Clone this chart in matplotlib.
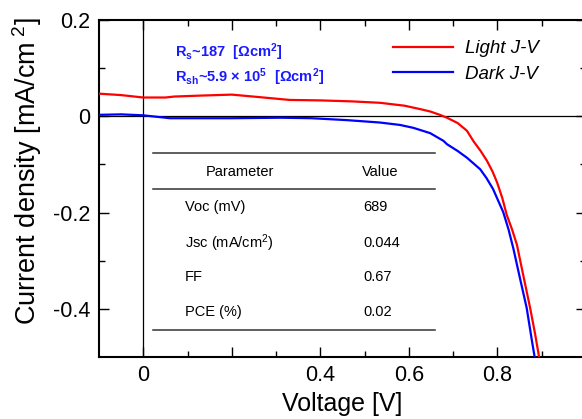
import matplotlib
matplotlib.use("Agg")
import matplotlib.pyplot as plt

plt.rcParams['font.family'] = ['Liberation Sans', 'DejaVu Sans']
plt.rcParams['mathtext.fontset'] = 'custom'
plt.rcParams['mathtext.rm'] = 'Liberation Sans'
plt.rcParams['mathtext.bf'] = 'Liberation Sans:bold'
plt.rcParams['mathtext.it'] = 'Liberation Sans:italic'

# light J-V curve
v_light = [-0.1, -0.05, 0.0, 0.05, 0.07, 0.13, 0.2, 0.26, 0.33, 0.40, 0.47, 0.535,
           0.59, 0.625, 0.648, 0.67, 0.686, 0.71, 0.731, 0.746, 0.762, 0.776, 0.789,
           0.799, 0.811, 0.821, 0.833, 0.844, 0.858, 0.874, 0.885, 0.894, 0.90]
j_light = [0.047, 0.044, 0.039, 0.039, 0.041, 0.043, 0.045, 0.040, 0.034, 0.033, 0.031, 0.028,
           0.022, 0.015, 0.010, 0.003, -0.003, -0.014, -0.030, -0.052, -0.072, -0.092, -0.115,
           -0.137, -0.170, -0.205, -0.235, -0.267, -0.329, -0.399, -0.452, -0.5, -0.53]

# dark J-V curve
v_dark = [-0.1, -0.05, 0.0, 0.04, 0.06, 0.2, 0.31, 0.38, 0.46, 0.535, 0.58, 0.61, 0.648,
          0.678, 0.686, 0.71, 0.731, 0.761, 0.775, 0.79, 0.813, 0.825, 0.836, 0.851,
          0.866, 0.878, 0.884, 0.89]
j_dark = [0.003, 0.004, 0.002, -0.002, -0.004, -0.004, -0.003, -0.004, -0.008, -0.013, -0.018,
          -0.024, -0.035, -0.051, -0.058, -0.072, -0.086, -0.11, -0.128, -0.151, -0.199,
          -0.235, -0.275, -0.337, -0.398, -0.467, -0.5, -0.53]

x_ticks = [0, 0.2, 0.4, 0.6, 0.8, 1.0]
x_labels = ['0', '', '0.4', '0.6', '0.8', '1']
y_ticks = [0.2, 0, -0.2, -0.4]
y_labels = ['0.2', '0', '-0.2', '-0.4']

params = ['Voc (mV)', 'Jsc (mA/cm$^2$)', 'FF', 'PCE (%)']
values = ['689', '0.044', '0.67', '0.02']

fig = plt.figure(figsize=(5.82, 4.19), dpi=100)
ax = fig.add_axes([99/582, 62/419, 487/582, 337/419])

ax.axhline(0, color='black', lw=0.9, zorder=1)
ax.axvline(0, color='black', lw=0.9, zorder=1)
ax.plot(v_light, j_light, color='#ff0000', lw=1.6, label='Light J-V', zorder=3)
ax.plot(v_dark, j_dark, color='#0000ff', lw=1.6, label='Dark J-V', zorder=3)

ax.set_xlim(-0.1, 1.0)
ax.set_ylim(-0.5, 0.2)
ax.set_xticks(x_ticks)
ax.set_xticklabels(x_labels)
ax.set_yticks(y_ticks)
ax.set_yticklabels(y_labels)
ax.set_xticks([0.1, 0.3, 0.5, 0.7, 0.9], minor=True)
ax.set_yticks([0.1, -0.1, -0.3], minor=True)
ax.tick_params(which='both', direction='in', top=True, right=True, labelsize=15.5, width=1)
ax.tick_params(which='major', length=7, pad=6)
ax.tick_params(which='minor', length=4)
for s in ax.spines.values():
    s.set_linewidth(1.5)

ax.set_xlabel('Voltage [V]', fontsize=18, labelpad=4)
ax.set_ylabel('Current density [mA/cm$^{\\ 2}$]', fontsize=19.5)
ax.yaxis.set_label_coords(-0.112, 0.553)

leg = ax.legend(loc='upper left', bbox_to_anchor=(0.57, 0.99), frameon=False,
                prop={'style': 'italic', 'size': 13.5}, handlelength=3.2,
                handletextpad=0.6, labelspacing=0.45)

ax.text(0.156, 0.905, 'R$_\\mathbf{s}$~187  [$\\mathbf{\\Omega}$cm$^\\mathbf{2}$]',
        transform=ax.transAxes, color='#1a1aff', fontsize=10.5, fontweight='bold', va='center')
ax.text(0.156, 0.831, 'R$_\\mathbf{sh}$~5.9 $\\mathbf{\\times}$ 10$^\\mathbf{5}$  [$\\mathbf{\\Omega}$cm$^\\mathbf{2}$]',
        transform=ax.transAxes, color='#1a1aff', fontsize=10.5, fontweight='bold', va='center')

# table
for yl in [0.605, 0.4985, 0.080]:
    ax.plot([0.111, 0.690], [yl, yl], transform=ax.transAxes, color='#333333', lw=1.1)
ax.text(0.290, 0.549, 'Parameter', transform=ax.transAxes, fontsize=10.5, ha='center', va='center')
ax.text(0.577, 0.549, 'Value', transform=ax.transAxes, fontsize=10.5, ha='center', va='center')
row_y = [0.445, 0.338, 0.237, 0.134]
for p, v, yy in zip(params, values, row_y):
    ax.text(0.177, yy, p, transform=ax.transAxes, fontsize=10.5, va='center')
    ax.text(0.542, yy, v, transform=ax.transAxes, fontsize=10.5, va='center')

fig.savefig('out.png', dpi=100)
